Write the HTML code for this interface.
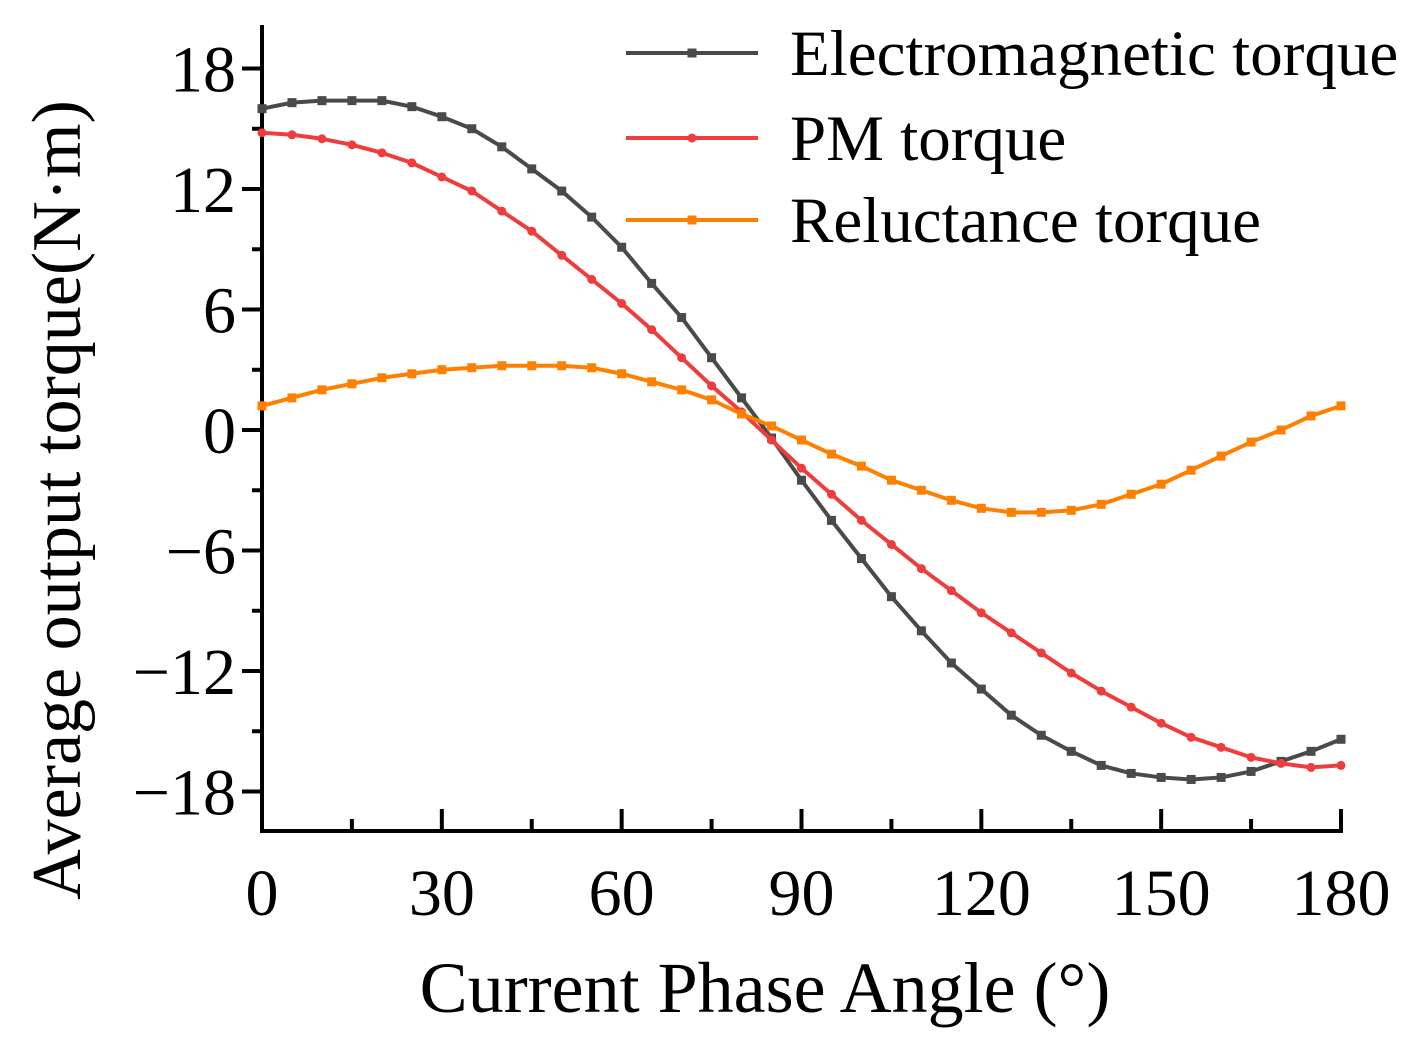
<!DOCTYPE html>
<html><head><meta charset="utf-8"><style>
html,body{margin:0;padding:0;background:#fff;}
svg{display:block;font-family:"Liberation Serif",serif;}
</style></head><body>
<svg id="chart" width="1423" height="1052" xmlns="http://www.w3.org/2000/svg">
<g id="axes"></g>
<g id="series"></g>
<g id="legend"></g>
<text x="765" y="1012" font-size="72" text-anchor="middle">Current Phase Angle (°)</text>
<text transform="translate(80,500) rotate(-90)" font-size="70" text-anchor="middle">Average output torque(N·m)</text>
</svg>
<script>
const angles = [0,5,10,15,20,25,30,35,40,45,50,55,60,65,70,75,80,85,90,95,100,105,110,115,120,125,130,135,140,145,150,155,160,165,170,175,180];
const emTorque = [16.0,16.3,16.4,16.4,16.4,16.1,15.6,15.0,14.1,13.0,11.9,10.6,9.1,7.3,5.6,3.6,1.6,-0.4,-2.5,-4.5,-6.4,-8.3,-10.0,-11.6,-12.9,-14.2,-15.2,-16.0,-16.7,-17.1,-17.3,-17.4,-17.3,-17.0,-16.5,-16.0,-15.4];
const pmTorque = [14.8,14.7,14.5,14.2,13.8,13.3,12.6,11.9,10.9,9.9,8.7,7.5,6.3,5.0,3.6,2.2,0.9,-0.5,-1.9,-3.2,-4.5,-5.7,-6.9,-8.0,-9.1,-10.1,-11.1,-12.1,-13.0,-13.8,-14.6,-15.3,-15.8,-16.3,-16.6,-16.8,-16.7];
const relTorque = [1.2,1.6,2.0,2.3,2.6,2.8,3.0,3.1,3.2,3.2,3.2,3.1,2.8,2.4,2.0,1.5,0.8,0.2,-0.5,-1.2,-1.8,-2.5,-3.0,-3.5,-3.9,-4.1,-4.1,-4.0,-3.7,-3.2,-2.7,-2.0,-1.3,-0.6,0.0,0.7,1.2];
const xTicks = [0,30,60,90,120,150,180];
const yTicks = [18,12,6,0,-6,-12,-18];
const legendLabels = ["Electromagnetic torque","PM torque","Reluctance torque"];

const NS="http://www.w3.org/2000/svg";
const X0=262,X1=1341,YZ=430,YS=(791-68)/36;
const sx=v=>X0+(v/180)*(X1-X0);
const sy=v=>YZ-v*YS;
function mk(parent,tag,attrs){const e=document.createElementNS(NS,tag);for(const k in attrs)e.setAttribute(k,attrs[k]);parent.appendChild(e);return e;}
const axes=document.getElementById('axes');
let e;
e=mk(axes,'line',{x1:X0,y1:25,x2:X0,y2:833,stroke:'#000','stroke-width':4});


e=mk(axes,'line',{x1:X0-2,y1:831,x2:X1+2,y2:831,stroke:'#000','stroke-width':4});


for(let v=-18;v<=18;v+=3){const major=(v%6===0);
 e=mk(axes,'line',{x1:X0-(major?20:10),y1:sy(v),x2:X0,y2:sy(v),stroke:'#000','stroke-width':4});
 
 }
for(let v=0;v<=180;v+=15){const major=(v%30===0);
 e=mk(axes,'line',{x1:sx(v),y1:831,x2:sx(v),y2:831-(major?22:12),stroke:'#000','stroke-width':4});
 
 }
yTicks.forEach(v=>{e=mk(axes,'text',{x:236,y:sy(v)+23,'font-size':66,'text-anchor':'end'});
 e.textContent=v<0?'\u2212'+Math.abs(v):String(v);
 
 });
xTicks.forEach(v=>{e=mk(axes,'text',{x:sx(v),y:915,'font-size':66,'text-anchor':'middle'});
 e.textContent=String(v);
 
 });

const series=document.getElementById('series');
const defs=[[emTorque,'#4a4a4a','square','electromagnetic-torque'],[pmTorque,'#ef3d3d','circle','pm-torque'],[relTorque,'#ff8000','square','reluctance-torque']];
function marker(g,x,y,color,shape){
 if(shape==='circle') return mk(g,'circle',{cx:x,cy:y,r:4.5,fill:color});
 return mk(g,'rect',{x:x-4.5,y:y-4.5,width:9,height:9,fill:color});}
defs.forEach(([vals,color,shape,name])=>{
 const g=mk(series,'g',{});
 
 
 const pts=vals.map((v,i)=>sx(angles[i])+','+sy(v)).join(' ');
 const pl=mk(g,'polyline',{points:pts,fill:'none',stroke:color,'stroke-width':4,'stroke-linejoin':'round'});
 
 
 vals.forEach((v,i)=>{const m=marker(g,sx(angles[i]),sy(v),color,shape);
  
  });
});

const legend=document.getElementById('legend');
const ly=[53,138,220];
defs.forEach(([vals,color,shape,name],i)=>{
 const g=mk(legend,'g',{});
 
 
 mk(g,'line',{x1:626,y1:ly[i],x2:758,y2:ly[i],stroke:color,'stroke-width':4});
 marker(g,692,ly[i],color,shape);
 const t=mk(g,'text',{x:790,y:ly[i]+22,'font-size':65});
 t.textContent=legendLabels[i];
 
 
});
</script>
</body></html>
